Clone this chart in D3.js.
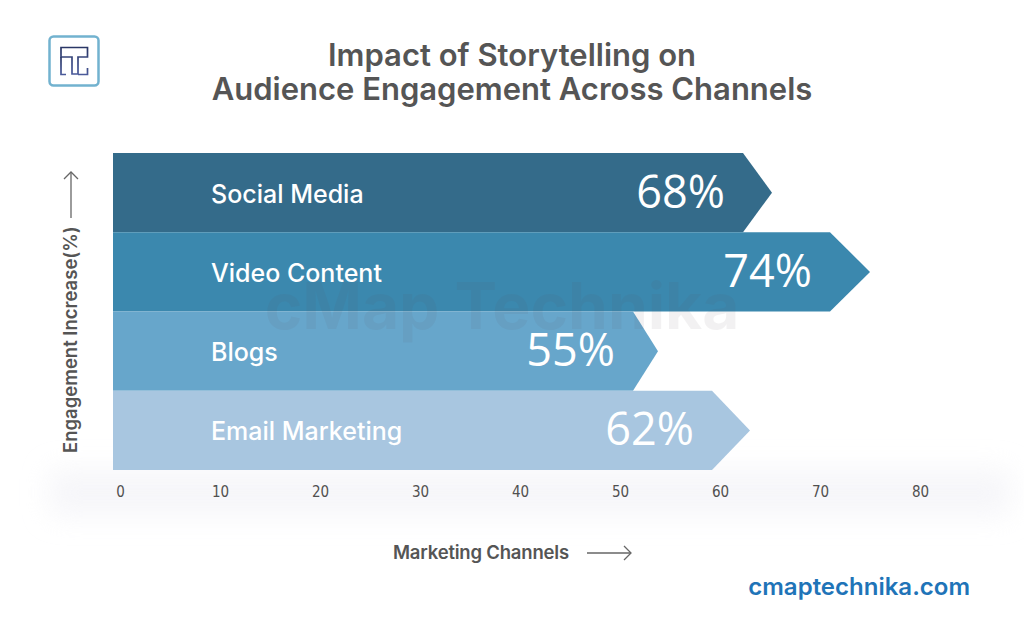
<!DOCTYPE html>
<html>
<head>
<meta charset="utf-8">
<script src="https://cdn.jsdelivr.net/npm/d3@7/dist/d3.min.js"></script>
<style>
  html, body { margin: 0; padding: 0; background: #ffffff; }
  svg { display: block; }
</style>
</head>
<body>
<svg id="chart" width="1024" height="617"></svg>
<script>
// ---- data ----
const categories = ["Social Media", "Video Content", "Blogs", "Email Marketing"];
const values = [68, 74, 55, 62];                 // printed percentage labels
const barEnds = [62.3, 71.0, 51.3, 59.2];        // end of the flat part, in axis units
const tipEnds = [65.2, 75.0, 53.8, 63.0];        // arrow tip, in axis units
const colors = ["#346b8a", "#3b88ae", "#67a6cb", "#a8c6e0"];
const xTicks = [0, 10, 20, 30, 40, 50, 60, 70, 80];

const titleLines = ["Impact of Storytelling on", "Audience Engagement Across Channels"];
const yLabel = "Engagement Increase(%)";
const xLabel = "Marketing Channels";
const site = "cmaptechnika.com";
const watermark = "cMap Technika";

// ---- layout ----
const plotLeft = 113;
const svg = d3.select("#chart");
const defs = svg.append("defs");

const blur = defs.append("filter").attr("id", "soft")
  .attr("x", "-20%").attr("y", "-100%").attr("width", "140%").attr("height", "300%");
blur.append("feGaussianBlur").attr("stdDeviation", 14);

const x = d3.scaleLinear().domain([0, 80]).range([120, 920]);
const y = d3.scaleBand().domain(categories).range([153, 470]).padding(0);

// soft shadow under the chart base
svg.append("rect")
  .attr("x", 50).attr("y", 470).attr("width", 960).attr("height", 45)
  .attr("fill", "#eeeef4").attr("opacity", 0.55)
  .attr("filter", "url(#soft)");

// logo
const logo = svg.append("g");
logo.append("rect").attr("x", 49.5).attr("y", 36.5).attr("width", 49).attr("height", 49)
  .attr("rx", 4).attr("fill", "#fff").attr("stroke", "#72b2cf").attr("stroke-width", 2.5);
const lg = defs.append("linearGradient").attr("id", "logoGrad")
  .attr("x1", 0).attr("y1", 0).attr("x2", 0).attr("y2", 1);
lg.append("stop").attr("offset", 0).attr("stop-color", "#2a3766");
lg.append("stop").attr("offset", 1).attr("stop-color", "#4a5a9a");
logo.append("path")
  .attr("d", "M61,47.5 H87.5 V57 H78 V74 H72 V57 H61 Z")
  .attr("fill", "none").attr("stroke", "url(#logoGrad)").attr("stroke-width", 1.7);
logo.append("path")
  .attr("d", "M61,57 V74.5 H66 M78,74.5 H87.5 V68")
  .attr("fill", "none").attr("stroke", "url(#logoGrad)").attr("stroke-width", 1.7);

// title
svg.append("g").selectAll("text").data(titleLines).join("text")
  .attr("x", 512).attr("y", (d, i) => 66 + i * 34)
  .attr("text-anchor", "middle")
  .attr("font-family", "Inter, 'Open Sans', sans-serif")
  .attr("font-weight", 600)
  .attr("font-size", 31)
  .attr("fill", "#555555")
  .text(d => d);

// bars
const idx = d3.range(categories.length);
svg.append("g").selectAll("path").data(idx).join("path")
  .attr("d", i => {
    const y0 = y(categories[i]), y1 = y0 + y.bandwidth(), ym = (y0 + y1) / 2;
    const xr = x(barEnds[i]), xt = x(tipEnds[i]);
    return `M${plotLeft},${y0} H${xr} L${xt},${ym} L${xr},${y1} H${plotLeft} Z`;
  })
  .attr("fill", i => colors[i]);

// watermark
svg.append("text")
  .attr("x", 502).attr("y", 329)
  .attr("text-anchor", "middle")
  .attr("font-family", "Inter, sans-serif")
  .attr("font-weight", 700)
  .attr("font-size", 64)
  .attr("fill", "#5a4a55")
  .attr("opacity", 0.07)
  .text(watermark);

// category labels
svg.append("g").selectAll("text").data(idx).join("text")
  .attr("x", 211)
  .attr("y", i => y(categories[i]) + y.bandwidth() / 2 + 10)
  .attr("font-family", "Inter, sans-serif")
  .attr("font-weight", 500)
  .attr("font-size", 25)
  .attr("fill", "#ffffff")
  .text(i => categories[i]);

// value labels
svg.append("g").selectAll("text").data(idx).join("text")
  .attr("x", i => x(barEnds[i]) - 18)
  .attr("y", i => y(categories[i]) + y.bandwidth() / 2 + 15)
  .attr("text-anchor", "end")
  .attr("font-family", "'Open Sans', 'Noto Sans', sans-serif")
  .attr("font-weight", 400)
  .attr("font-size", 45)
  .attr("fill", "#ffffff")
  .text(i => values[i] + "%");

// x axis
const xAxis = svg.append("g")
  .attr("transform", "translate(0,486)")
  .call(d3.axisBottom(x).tickValues(xTicks).tickSize(0).tickPadding(0));
xAxis.select(".domain").remove();
xAxis.selectAll("text")
  .attr("font-family", "'Liberation Sans Narrow', 'DejaVu Sans Condensed', sans-serif")
  .attr("font-stretch", "condensed")
  .attr("font-weight", 400)
  .attr("font-size", 15)
  .attr("fill", "#505050")
  .attr("dy", "0.71em");

// x axis label with arrow
svg.append("text")
  .attr("x", 393).attr("y", 559)
  .attr("font-family", "Inter, sans-serif")
  .attr("font-weight", 600)
  .attr("font-size", 18.5)
  .attr("letter-spacing", -0.2)
  .attr("fill", "#555555")
  .text(xLabel);
const axArrow = svg.append("g").attr("stroke", "#666").attr("stroke-width", 1.3).attr("fill", "none");
axArrow.append("line").attr("x1", 587).attr("y1", 553).attr("x2", 631).attr("y2", 553);
axArrow.append("path").attr("d", "M624,546 L631,553 L624,560");

// y axis label with arrow
svg.append("text")
  .attr("transform", "translate(77,453) rotate(-90)")
  .attr("font-family", "Inter, sans-serif")
  .attr("font-weight", 600)
  .attr("font-size", 18.5)
  .attr("fill", "#555555")
  .text(yLabel);
const ayArrow = svg.append("g").attr("stroke", "#666").attr("stroke-width", 1.3).attr("fill", "none");
ayArrow.append("line").attr("x1", 71).attr("y1", 218).attr("x2", 71).attr("y2", 172);
ayArrow.append("path").attr("d", "M64,179 L71,172 L78,179");

// site
svg.append("text")
  .attr("x", 970).attr("y", 595)
  .attr("text-anchor", "end")
  .attr("font-family", "Inter, sans-serif")
  .attr("font-weight", 600)
  .attr("font-size", 24)
  .attr("fill", "#1f74b8")
  .text(site);
</script>
</body>
</html>
